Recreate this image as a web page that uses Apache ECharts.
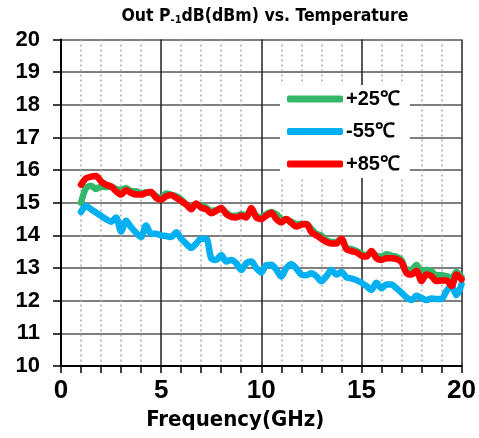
<!DOCTYPE html>
<html><head><meta charset="utf-8">
<script src="https://cdn.jsdelivr.net/npm/echarts@6/dist/echarts.min.js"></script>
<style>html,body{margin:0;padding:0;background:#fff}#c{width:479px;height:438px}</style>
</head><body><div id="c"></div>
<script>
const freq = [1.00,1.25,1.50,1.75,2.00,2.25,2.50,2.75,3.00,3.25,3.50,3.75,4.00,4.25,4.50,4.75,5.00,5.25,5.50,5.75,6.00,6.25,6.50,6.75,7.00,7.25,7.50,7.75,8.00,8.25,8.50,8.75,9.00,9.25,9.50,9.75,10.00,10.25,10.50,10.75,11.00,11.25,11.50,11.75,12.00,12.25,12.50,12.75,13.00,13.25,13.50,13.75,14.00,14.25,14.50,14.75,15.00,15.25,15.50,15.75,16.00,16.25,16.50,16.75,17.00,17.25,17.50,17.75,18.00,18.25,18.50,18.75,19.00,19.25,19.50,19.75,20.00];
const p25 = [15.0,15.45,15.52,15.42,15.5,15.48,15.5,15.42,15.4,15.45,15.35,15.35,15.3,15.32,15.3,15.2,15.15,15.28,15.25,15.2,15.1,14.95,14.85,14.95,14.9,14.85,14.75,14.78,14.8,14.7,14.6,14.6,14.65,14.62,14.78,14.6,14.55,14.65,14.72,14.65,14.5,14.48,14.42,14.35,14.35,14.35,14.2,14.05,14.0,13.85,13.8,13.8,13.88,13.62,13.58,13.52,13.45,13.38,13.5,13.38,13.35,13.42,13.38,13.35,13.25,12.95,12.95,13.1,12.85,12.95,12.9,12.78,12.78,12.75,12.7,12.88,12.72];
const m55 = [14.72,14.9,14.8,14.7,14.6,14.5,14.42,14.55,14.12,14.45,14.25,14.08,13.95,14.3,14.05,14.05,14.0,13.98,13.95,14.1,13.9,13.75,13.62,13.75,13.9,13.9,13.3,13.25,13.4,13.2,13.25,13.15,12.94,13.15,13.2,13.0,12.86,13.09,13.1,12.95,12.74,13.0,13.12,12.99,12.8,12.78,12.84,12.75,12.6,12.75,12.94,12.8,12.88,12.72,12.68,12.63,12.55,12.45,12.33,12.55,12.38,12.5,12.5,12.38,12.25,12.1,12.02,12.15,12.08,12.02,12.07,12.05,12.05,12.3,12.45,12.17,12.5];
const p85 = [15.55,15.75,15.8,15.82,15.65,15.55,15.5,15.35,15.25,15.38,15.3,15.25,15.25,15.3,15.33,15.15,15.1,15.2,15.24,15.15,15.05,14.95,14.8,14.98,14.85,14.8,14.68,14.75,14.84,14.65,14.57,14.55,14.6,14.55,14.84,14.55,14.5,14.6,14.69,14.5,14.4,14.5,14.38,14.27,14.33,14.35,14.1,14.0,13.9,13.8,13.75,13.75,13.9,13.58,13.52,13.48,13.38,13.35,13.52,13.3,13.25,13.3,13.3,13.28,13.18,12.85,12.8,12.92,12.6,12.8,12.75,12.6,12.62,12.62,12.45,12.8,12.65];
const seriesNames = ['+25℃','-55℃','+85℃'];
const seriesColors = ['#33b86a','#00b0f0','#ff0000'];
const seriesData = [p25, m55, p85];

const chart = echarts.init(document.getElementById('c'), null, {renderer:'canvas'});
const labelFont = 'Liberation Sans, Arial, sans-serif';
const nameFont = 'DejaVu Sans Condensed, DejaVu Sans, sans-serif';
chart.setOption({
  animation:false,
  backgroundColor:'#fff',
  title:{
    text:'{a|Out P}{s|-1}{a|dB(dBm) vs. Temperature}',
    left:260, top:2, textAlign:'center',
    textStyle:{rich:{
      a:{fontFamily:nameFont,fontWeight:'bold',fontSize:17.5,color:'#000'},
      s:{fontFamily:nameFont,fontWeight:'bold',fontSize:11,color:'#000',padding:[8,0,0,0]}
    }}
  },
  legend:{
    orient:'vertical', left:280, top:85,
    backgroundColor:'#fff', padding:[4,10,4,7],
    icon:'roundRect', itemWidth:56, itemHeight:7, itemGap:12.5,
    data:seriesNames,
    textStyle:{fontFamily:labelFont,fontWeight:'bold',fontSize:20,color:'#000',lineHeight:20,padding:[0,0,0,-2]}
  },
  grid:{left:61,right:16,top:39.5,bottom:72},
  xAxis:{
    type:'value',min:0,max:20,interval:5,
    name:'Frequency(GHz)',nameLocation:'middle',nameGap:40,
    nameTextStyle:{fontFamily:nameFont,fontWeight:'bold',fontSize:22,color:'#000',padding:[0,52,0,0]},
    axisLine:{lineStyle:{color:'#000',width:2}},
    axisTick:{show:true,length:7,lineStyle:{color:'#000',width:1.5}},
    minorTick:{show:true,splitNumber:5,length:7,lineStyle:{color:'#000',width:1.5}},
    axisLabel:{fontFamily:labelFont,fontWeight:'bold',fontSize:26,color:'#000',margin:12},
    splitLine:{show:true,lineStyle:{color:'#222',width:1.5}},
    minorSplitLine:{show:true,lineStyle:{color:'#aaa',width:1.5,type:[2,3]}}
  },
  yAxis:{
    type:'value',min:10,max:20,interval:1,
    axisLine:{show:true,lineStyle:{color:'#000',width:2}},
    axisTick:{show:true,length:8,lineStyle:{color:'#000',width:1.5}},
    axisLabel:{fontFamily:labelFont,fontWeight:'bold',fontSize:22,color:'#000',margin:21},
    splitLine:{show:true,lineStyle:{color:'#555',width:1.5}}
  },
  series:seriesNames.map((n,i)=>({
    name:n,type:'line',symbol:'none',smooth:0.3,
    data:freq.map((f,j)=>[f,seriesData[i][j]]),
    lineStyle:{color:seriesColors[i],width:6.5,cap:'round',join:'round'},
    itemStyle:{color:seriesColors[i]}
  }))
});
</script></body></html>
